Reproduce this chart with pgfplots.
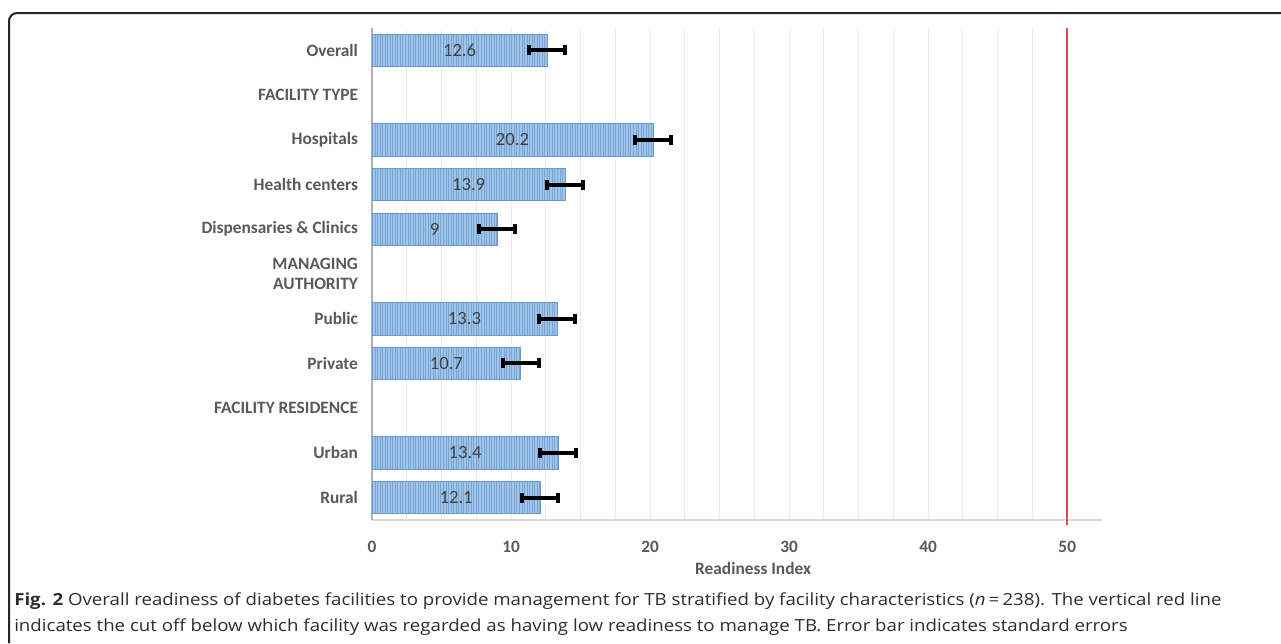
\documentclass[border=0pt]{standalone}
\usepackage{pgfplots}
\pgfplotsset{compat=1.18}
\usepackage{fontspec}
\setmainfont{Carlito}
\newfontfamily\capfont{Open Sans}
\usetikzlibrary{patterns.meta}
\definecolor{lab}{RGB}{89,89,89}
\definecolor{valtxt}{RGB}{64,64,64}
\definecolor{barfill}{RGB}{160,197,233}
\definecolor{barline}{RGB}{100,155,210}
\definecolor{stripe}{RGB}{120,165,214}
\definecolor{redline}{RGB}{222,80,80}
\definecolor{gridc}{RGB}{236,236,236}
\definecolor{axc}{RGB}{217,217,217}
\definecolor{yaxc}{RGB}{175,175,175}
\definecolor{captxt}{RGB}{45,45,45}
\begin{document}
\begin{tikzpicture}
\path[use as bounding box] (0,0) rectangle (960.75pt,-482.25pt);
\draw[line width=1.5pt, rounded corners=6pt, black!85] (6.75pt,-482.25pt) -- (6.75pt,-9.75pt) -- (960.75pt,-9.75pt);
\begin{axis}[
  at={(279pt,-390pt)}, anchor=south west,
  scale only axis, width=547.5pt, height=369pt,
  xmin=0, xmax=52.5, ymin=-0.5, ymax=10.5,
  clip=false,
  axis x line*=bottom, axis y line*=left,
  axis line style={-},
  x axis line style={draw=axc, line width=0.8pt},
  y axis line style={draw=yaxc, line width=0.9pt},
  xtick={0,10,20,30,40,50},
  minor x tick num=3,
  xmajorgrids, xminorgrids,
  major grid style={gridc, line width=0.8pt},
  minor grid style={gridc, line width=0.8pt},
  tick style={draw=none},
  major tick length=0pt, minor tick length=0pt,
  /pgf/number format/assume math mode=true,
  xticklabel style={font=\bfseries\fontsize{13}{14}\selectfont, text=lab, yshift=-12pt},
  ytick={0,...,10},
  yticklabels={Rural, Urban, FACILITY RESIDENCE, Private, Public, {MANAGING\\AUTHORITY}, Dispensaries \& Clinics, Health centers, Hospitals, FACILITY TYPE, Overall},
  yticklabel style={align=right, font=\bfseries\fontsize{13}{15.5}\selectfont, text=lab, xshift=-7pt},
  xlabel={Readiness Index},
  xlabel style={at={(axis description cs:0.522,0)}, anchor=center, yshift=-36pt, font=\bfseries\fontsize{13}{14}\selectfont, text=lab},
]
\addplot[xbar, bar width=0.72, fill=barfill, draw=barline, line width=0.5pt,
  postaction={pattern={Lines[angle=90,distance=1.9pt,line width=0.55pt]}, pattern color=stripe},
  error bars/.cd, x dir=both, x explicit,
  error bar style={line width=3pt, black},
  error mark options={rotate=90, line width=3pt, mark size=3.75pt, black}]
coordinates {
  (12.6,10) +- (1.3,0)
  (20.2,8) +- (1.3,0)
  (13.9,7) +- (1.3,0)
  (9.0,6) +- (1.3,0)
  (13.3,4) +- (1.3,0)
  (10.7,3) +- (1.3,0)
  (13.4,1) +- (1.3,0)
  (12.1,0) +- (1.3,0)
};
\addplot[draw=none, mark=none, nodes near coords, point meta=explicit symbolic,
  every node near coord/.append style={anchor=center, font=\fontsize{14}{15}\selectfont, text=valtxt}]
coordinates {
  (6.3,10) [12.6]
  (10.1,8) [20.2]
  (6.95,7) [13.9]
  (4.5,6) [9]
  (6.65,4) [13.3]
  (5.35,3) [10.7]
  (6.7,1) [13.4]
  (6.05,0) [12.1]
};
\addplot[red!80!black!70!white, solid, line width=1.4pt, mark=none, forget plot] table[row sep=\\] {x y\\ 50 -0.62\\ 50 10.5\\};
\end{axis}
\node[anchor=west, inner sep=0pt, text=captxt] at (10.5pt,-451pt) {\scalebox{1.12}[1]{\capfont\fontsize{12.5}{14}\selectfont\textbf{Fig. 2} Overall readiness of diabetes facilities to provide management for TB stratified by facility characteristics (\textit{n}\,=\,238). The vertical red line}};
\node[anchor=west, inner sep=0pt, text=captxt] at (10.5pt,-470.25pt) {\scalebox{1.12}[1]{\capfont\fontsize{12.5}{14}\selectfont indicates the cut off below which facility was regarded as having low readiness to manage TB. Error bar indicates standard errors}};
\end{tikzpicture}
\end{document}
